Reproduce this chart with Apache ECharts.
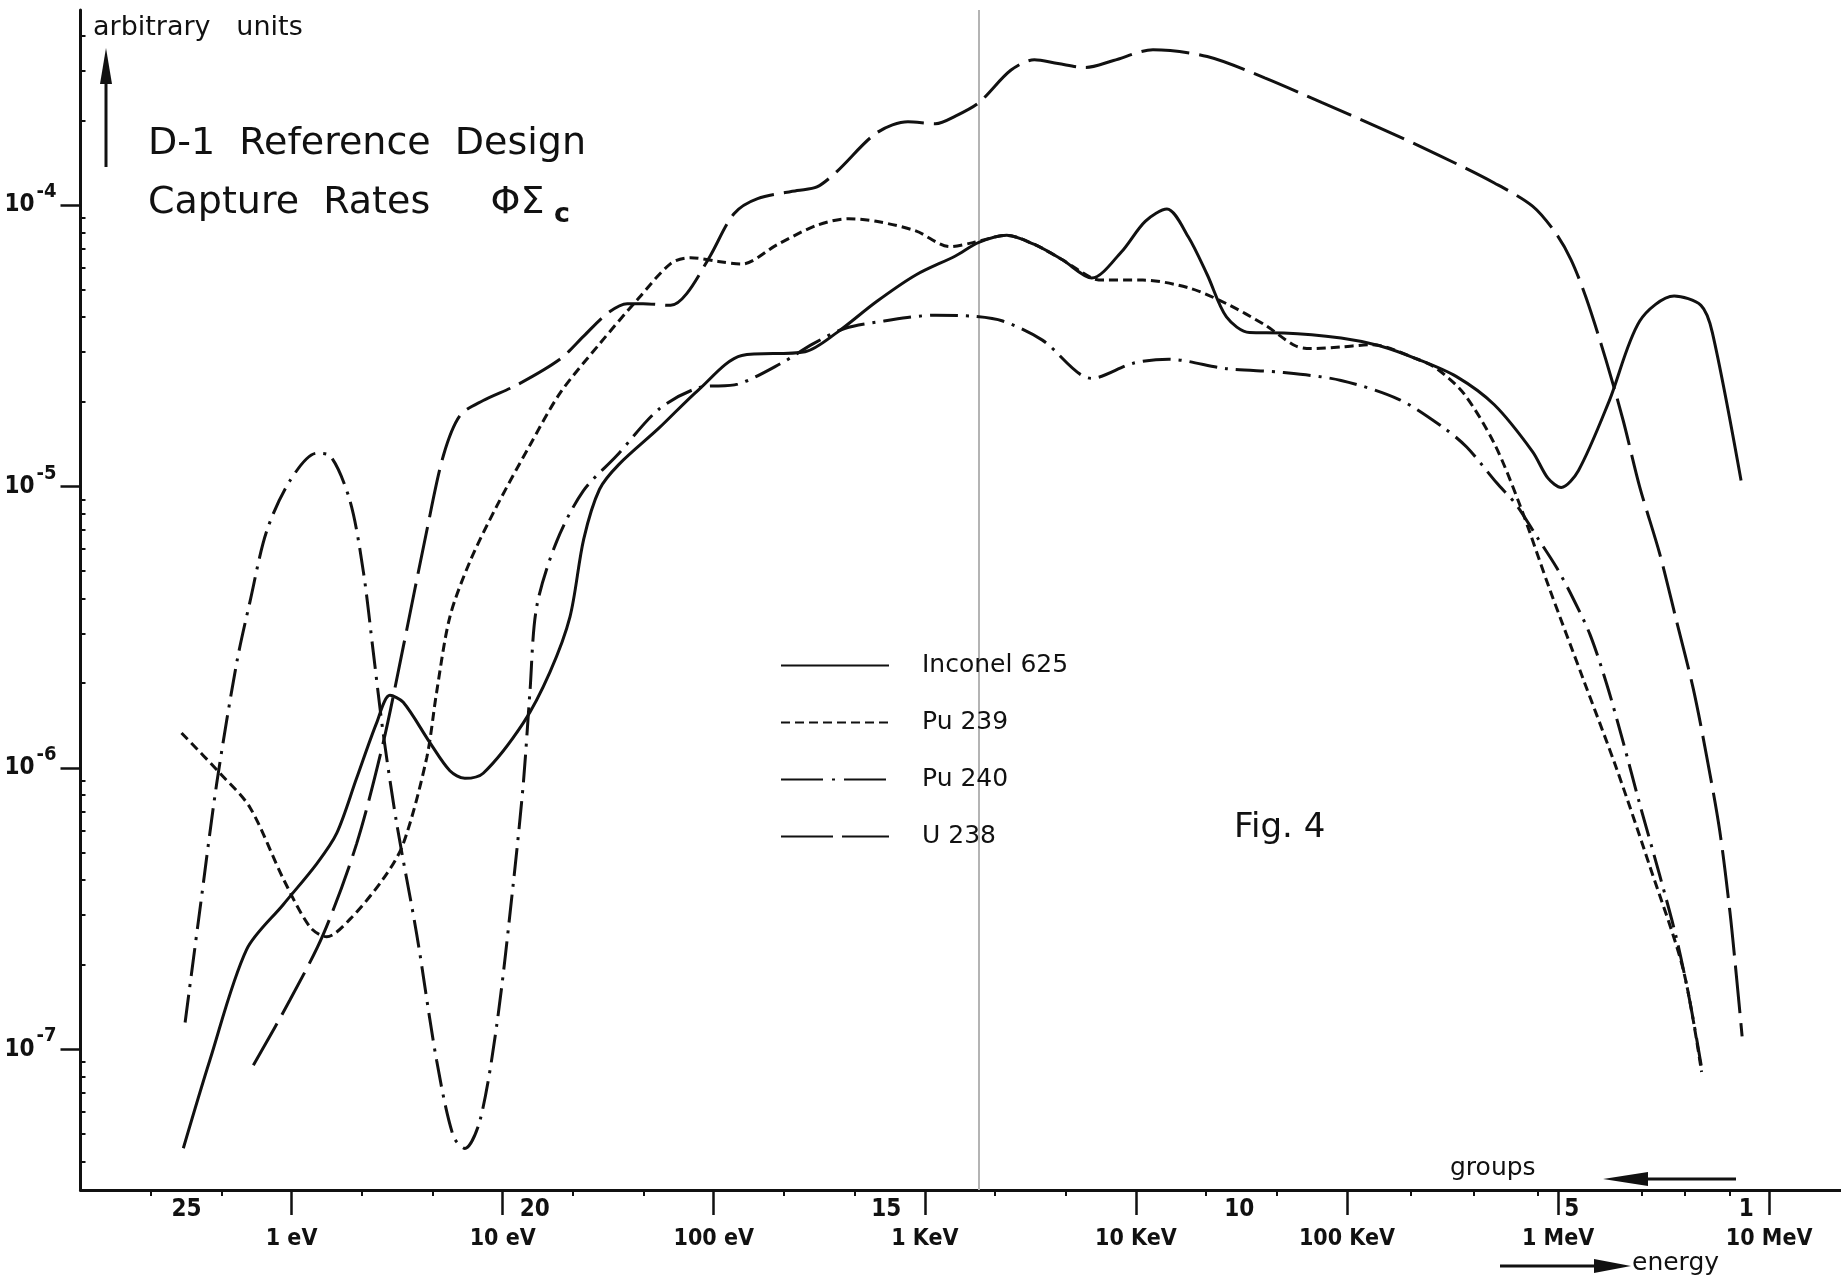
<!DOCTYPE html>
<html>
<head>
<meta charset="utf-8">
<title>D-1 Reference Design – Capture Rates</title>
<script src="https://cdn.jsdelivr.net/npm/echarts@6/dist/echarts.min.js"></script>
<style>
  html, body { margin: 0; padding: 0; background: #ffffff; }
  #chart { width: 1841px; height: 1286px; }
</style>
</head>
<body>
<div id="chart"></div>
<script>
// Capture rates (arbitrary units) versus neutron energy (eV)

const inconelE = [0.307, 0.410, 0.612, 0.914, 1.315, 1.637, 2.032, 2.529, 2.924, 3.381, 4.529, 5.623, 6.622, 8.09,
  12.53, 16.75, 20.84, 24.21, 28.77, 35.65, 54.95, 84.5, 135.8, 271, 383, 589, 906, 1396, 1803, 2443, 3304, 4467,
  6180, 8531, 11070, 14030, 17700, 21780, 26850, 34510, 50230, 93760, 142600, 216300, 328900, 498900, 756800,
  895400, 1.035e6, 1.25e6, 1.746e6, 2.438e6, 3.548e6, 4.753e6, 5.383e6, 7.362e6];
const inconelRate = [4.45e-8, 9.14e-8, 2.26e-7, 3.27e-7, 4.56e-7, 5.86e-7, 9.18e-7, 1.445e-6, 1.81e-6, 1.71e-6,
  1.227e-6, 9.77e-7, 9.18e-7, 9.57e-7, 1.445e-6, 2.19e-6, 3.44e-6, 6.50e-6, 9.77e-6, 1.20e-5, 1.61e-5, 2.20e-5,
  2.92e-5, 3.01e-5, 3.52e-5, 4.53e-5, 5.64e-5, 6.59e-5, 7.36e-5, 7.80e-5, 7.24e-5, 6.40e-5, 5.50e-5, 6.81e-5,
  8.75e-5, 9.68e-5, 7.71e-5, 5.65e-5, 4.00e-5, 3.52e-5, 3.51e-5, 3.37e-5, 3.16e-5, 2.83e-5, 2.46e-5, 1.95e-5,
  1.33e-5, 1.07e-5, 9.91e-6, 1.14e-5, 2.01e-5, 3.87e-5, 4.75e-5, 4.40e-5, 3.52e-5, 1.05e-5];

const pu239E = [0.301, 0.458, 0.635, 0.914, 1.222, 1.466, 1.892, 2.716, 3.381, 4.365, 4.864, 5.623, 7.0, 9.376,
  13.46, 18.66, 28.77, 44.26, 62.52, 77.62, 105, 135.8, 200.4, 308.3, 435.5, 588.8, 905.7, 1315, 1690, 2443, 3304,
  4467, 6180, 6982, 10790, 18030, 26850, 40740, 56890, 67300, 93760, 131200, 216300, 266700, 357300, 498900,
  659200, 914100, 1.315e6, 1.892e6, 2.723e6, 3.917e6, 4.786e6];
const pu239Rate = [1.33e-6, 9.57e-7, 7.23e-7, 4.03e-7, 2.72e-7, 2.51e-7, 2.90e-7, 4.03e-7, 5.37e-7, 1.084e-6,
  1.854e-6, 3.44e-6, 5.41e-6, 8.51e-6, 1.40e-5, 2.14e-5, 3.21e-5, 4.68e-5, 6.19e-5, 6.50e-5, 6.30e-5, 6.17e-5,
  7.24e-5, 8.47e-5, 8.93e-5, 8.75e-5, 8.09e-5, 7.11e-5, 7.35e-5, 7.80e-5, 7.24e-5, 6.40e-5, 5.50e-5, 5.41e-5,
  5.41e-5, 5.06e-5, 4.46e-5, 3.75e-5, 3.16e-5, 3.09e-5, 3.13e-5, 3.19e-5, 2.83e-5, 2.62e-5, 2.14e-5, 1.42e-5,
  8.59e-6, 4.30e-6, 2.07e-6, 9.95e-7, 4.46e-7, 1.92e-7, 8.30e-8];

const pu240E = [0.313, 0.368, 0.442, 0.550, 0.635, 0.762, 0.982, 1.315, 1.521, 1.892, 2.188, 2.438, 2.716, 3.148,
  3.917, 4.864, 5.834, 6.622, 7.798, 9.376, 11.22, 12.53, 13.46, 14.49, 18.03, 24.10, 34.67, 54.95, 84.53, 130,
  208.9, 295.1, 416.9, 641.2, 1125, 1730, 2339, 3606, 6180, 9705, 14320, 26850, 50230, 93760, 175800, 285800,
  369000, 511700, 635300, 790700, 984000, 1.18e6, 1.416e6, 1.698e6, 2.032e6, 2.438e6, 3.034e6, 3.639e6, 4.207e6,
  4.786e6];
const pu240Rate = [1.245e-7, 3.14e-7, 8.81e-7, 2.37e-6, 3.89e-6, 6.93e-6, 1.047e-5, 1.312e-5, 1.285e-5, 8.87e-6,
  4.98e-6, 2.58e-6, 1.33e-6, 6.34e-7, 2.56e-7, 9.14e-8, 4.92e-8, 4.44e-8, 5.56e-8, 1.219e-7, 3.86e-7, 8.81e-7,
  1.854e-6, 3.73e-6, 6.38e-6, 9.64e-6, 1.285e-5, 1.88e-5, 2.24e-5, 2.31e-5, 2.74e-5, 3.21e-5, 3.64e-5, 3.87e-5,
  4.06e-5, 4.02e-5, 3.87e-5, 3.31e-5, 2.42e-5, 2.74e-5, 2.83e-5, 2.62e-5, 2.54e-5, 2.38e-5, 2.04e-5, 1.62e-5,
  1.38e-5, 1.03e-5, 8.59e-6, 6.65e-6, 5.15e-6, 3.99e-6, 2.98e-6, 1.99e-6, 1.239e-6, 7.43e-7, 4.14e-7, 2.48e-7,
  1.486e-7, 8.61e-8];

const u238E = [0.659, 0.982, 1.413, 2.032, 2.716, 3.381, 4.365, 5.236, 6.281, 8.09, 11.64, 18.66, 24.21, 31.33,
  38.90, 46.24, 62.52, 74.3, 96.2, 124.7, 161.4, 248.3, 308.3, 382.8, 588.8, 831.8, 1125, 1396, 1803, 2553, 3304,
  4276, 5794, 7834, 12050, 21780, 40740, 76210, 142600, 266700, 498900, 756800, 972700, 1.151e6, 1.358e6,
  1.687e6, 2.032e6, 2.438e6, 3.034e6, 3.639e6, 4.365e6, 5.047e6, 5.834e6, 6.516e6, 7.015e6, 7.447e6];
const u238Rate = [8.77e-8, 1.496e-7, 2.56e-7, 5.37e-7, 1.227e-6, 2.69e-6, 6.93e-6, 1.285e-5, 1.786e-5, 2.02e-5,
  2.29e-5, 2.83e-5, 3.42e-5, 4.12e-5, 4.46e-5, 4.46e-5, 4.40e-5, 4.83e-5, 6.59e-5, 9.31e-5, 1.054e-4, 1.125e-4,
  1.159e-4, 1.315e-4, 1.80e-4, 1.977e-4, 1.945e-4, 2.07e-4, 2.31e-4, 3.01e-4, 3.28e-4, 3.18e-4, 3.08e-4, 3.26e-4,
  3.56e-4, 3.37e-4, 2.83e-4, 2.31e-4, 1.88e-4, 1.514e-4, 1.197e-4, 9.91e-5, 7.96e-5, 6.40e-5, 4.68e-5, 2.81e-5,
  1.722e-5, 9.95e-6, 5.75e-6, 3.33e-6, 1.919e-6, 1.109e-6, 5.97e-7, 3.09e-7, 1.786e-7, 1.112e-7];

// energy axis: decade ticks with their labels
const energyTicks = [1, 10, 100, 1e3, 1e4, 1e5, 1e6, 1e7];
const energyLabels = ['1 eV', '10 eV', '100 eV', '1 KeV', '10 KeV', '100 KeV', '1 MeV', '10 MeV'];
// group boundaries (eV) that carry a short tick, and the group numbers written under the axis
const groupBounds = [0.215, 0.465, 2.15, 4.65, 21.5, 46.5, 215, 465, 2150, 4650, 21500, 46500,
  2e5, 4e5, 8e5, 2.5e6, 4e6, 6.5e6];
const groupLabelAt = [0.318, 14.2, 656, 30900, 1.16e6, 7.8e6];
const groupLabels = ['25', '20', '15', '10', '5', '1'];
// rate axis decades and their exponents
const rateTicks = [1e-7, 1e-6, 1e-5, 1e-4];
const rateExponents = ['-7', '-6', '-5', '-4'];

const energyMin = 0.1, energyMax = 2.19e7;
const rateMin = 3.162e-8, rateMax = 4.93e-4;

// minor ticks 2..9 within each decade of the rate axis
const rateMinor = [];
for (let d = -8; d <= -4; d++) {
  for (let m = 2; m <= 9; m++) {
    const v = m * Math.pow(10, d);
    if (v > rateMin && v < rateMax) rateMinor.push(v);
  }
}

function pairs(es, vs) { return es.map((e, i) => [e, vs[i]]); }
function lookup(values, labels, v) {
  for (let i = 0; i < values.length; i++) {
    if (Math.abs(Math.log10(values[i]) - Math.log10(v)) < 1e-3) return labels[i];
  }
  return '';
}

const INK = '#111111';
const NARROW = "'Liberation Sans Narrow', 'DejaVu Sans Condensed', sans-serif";
const SANS = "'DejaVu Sans', sans-serif";

const chart = echarts.init(document.getElementById('chart'), null, { renderer: 'canvas' });

const lineBase = { type: 'line', symbol: 'none', showSymbol: false, smooth: 0.3, silent: true,
  xAxisIndex: 0, yAxisIndex: 0, itemStyle: { color: INK } };

chart.setOption({
  animation: false,
  backgroundColor: '#ffffff',
  grid: { left: 80.5, right: 0, top: 10, bottom: 96, containLabel: false, outerBoundsMode: 'none' },
  xAxis: [
    {
      type: 'log', logBase: 10, min: energyMin, max: energyMax, position: 'bottom',
      axisLine: { show: true, lineStyle: { color: INK, width: 3 } },
      axisTick: { show: true, customValues: energyTicks, length: 25, inside: false,
        lineStyle: { color: INK, width: 2.5 } },
      axisLabel: { show: true, customValues: energyTicks, margin: 38, color: INK,
        fontFamily: NARROW, fontSize: 23, fontWeight: 'bold',
        formatter: v => lookup(energyTicks, energyLabels, v) },
      splitLine: { show: false }, minorTick: { show: false }
    },
    {
      type: 'log', logBase: 10, min: energyMin, max: energyMax, position: 'bottom', offset: 0,
      axisLine: { show: false },
      axisTick: { show: true, customValues: groupBounds, length: 6, inside: false,
        lineStyle: { color: INK, width: 2 } },
      axisLabel: { show: true, customValues: groupLabelAt, margin: 8, color: INK,
        fontFamily: NARROW, fontSize: 24, fontWeight: 'bold',
        formatter: v => lookup(groupLabelAt, groupLabels, v) },
      splitLine: { show: false }
    }
  ],
  yAxis: [
    {
      type: 'log', logBase: 10, min: rateMin, max: rateMax, position: 'left',
      axisLine: { show: true, lineStyle: { color: INK, width: 3 } },
      axisTick: { show: true, customValues: rateTicks, length: 20, inside: false,
        lineStyle: { color: INK, width: 2.5 } },
      axisLabel: {
        show: true, customValues: rateTicks, margin: 24, color: INK,
        formatter: v => '{b|10}{s|' + lookup(rateTicks, rateExponents, v) + '}',
        rich: {
          b: { fontFamily: NARROW, fontSize: 24, fontWeight: 'bold', lineHeight: 46, color: INK },
          s: { fontFamily: NARROW, fontSize: 20, fontWeight: 'bold', lineHeight: 20,
            verticalAlign: 'top', color: INK, padding: [0, 0, 0, 2] }
        }
      },
      splitLine: { show: false }
    },
    {
      type: 'log', logBase: 10, min: rateMin, max: rateMax, position: 'left', offset: 0,
      axisLine: { show: false },
      axisTick: { show: true, customValues: rateMinor, length: 5, inside: true,
        lineStyle: { color: INK, width: 2 } },
      axisLabel: { show: false },
      splitLine: { show: false }
    }
  ],
  legend: {
    orient: 'vertical', left: 775, top: 648, itemWidth: 108, itemHeight: 30, itemGap: 32,
    selectedMode: false,
    itemStyle: { opacity: 0 },
    textStyle: { color: INK, fontFamily: SANS, fontSize: 25, padding: [0, 0, 0, 28] },
    data: [
      { name: 'Inconel 625' },
      { name: 'Pu 239', lineStyle: { type: [9, 5] } },
      { name: 'Pu 240', lineStyle: { type: [42, 9, 3, 9] } },
      { name: 'U 238', lineStyle: { type: [52, 9] } }
    ]
  },
  series: [
    Object.assign({}, lineBase, {
      name: 'Inconel 625', data: pairs(inconelE, inconelRate), z: 4,
      lineStyle: { color: INK, width: 3, type: 'solid' },
      markLine: {
        silent: true, symbol: 'none', label: { show: false }, z: 1,
        lineStyle: { color: '#b4b4b4', width: 2, type: 'solid' },
        data: [{ xAxis: 1803 }]
      }
    }),
    Object.assign({}, lineBase, {
      name: 'Pu 239', data: pairs(pu239E, pu239Rate), z: 3,
      lineStyle: { color: INK, width: 3, type: [9, 5] }
    }),
    Object.assign({}, lineBase, {
      name: 'Pu 240', data: pairs(pu240E, pu240Rate), z: 3,
      lineStyle: { color: INK, width: 3, type: [28, 8, 3, 8] }
    }),
    Object.assign({}, lineBase, {
      name: 'U 238', data: pairs(u238E, u238Rate), z: 3,
      lineStyle: { color: INK, width: 3, type: [48, 10] }
    })
  ],
  graphic: [
    { type: 'text', silent: true, style: { x: 93, y: 28, text: 'arbitrary   units', fill: INK,
      font: "27px 'DejaVu Sans'", verticalAlign: 'middle' } },
    { type: 'line', silent: true, shape: { x1: 106, y1: 167, x2: 106, y2: 80 },
      style: { stroke: INK, lineWidth: 3 } },
    { type: 'polygon', silent: true, shape: { points: [[106, 48], [100, 84], [112, 84]] },
      style: { fill: INK } },
    { type: 'text', silent: true, style: { x: 148, y: 144, text: 'D-1  Reference  Design', fill: INK,
      font: "38px 'DejaVu Sans'", verticalAlign: 'middle' } },
    { type: 'text', silent: true, style: {
      x: 148, y: 203, verticalAlign: 'middle',
      text: '{a|Capture  Rates     ΦΣ}{c| c}',
      rich: {
        a: { fontFamily: 'DejaVu Sans', fontSize: 38, lineHeight: 50, verticalAlign: 'middle', fill: INK },
        c: { fontFamily: 'DejaVu Sans', fontSize: 27, fontWeight: 'bold', lineHeight: 27,
          verticalAlign: 'bottom', fill: INK }
      } } },
    { type: 'text', silent: true, style: { x: 1234, y: 828, text: 'Fig. 4', fill: INK,
      font: "34px 'DejaVu Sans'", verticalAlign: 'middle' } },
    { type: 'text', silent: true, style: { x: 1450, y: 1168, text: 'groups', fill: INK,
      font: "25px 'DejaVu Sans'", verticalAlign: 'middle' } },
    { type: 'line', silent: true, shape: { x1: 1640, y1: 1179, x2: 1736, y2: 1179 },
      style: { stroke: INK, lineWidth: 3 } },
    { type: 'polygon', silent: true, shape: { points: [[1603, 1179], [1648, 1172], [1648, 1186]] },
      style: { fill: INK } },
    { type: 'line', silent: true, shape: { x1: 1500, y1: 1266, x2: 1600, y2: 1266 },
      style: { stroke: INK, lineWidth: 3 } },
    { type: 'polygon', silent: true, shape: { points: [[1631, 1266], [1594, 1259], [1594, 1273]] },
      style: { fill: INK } },
    { type: 'text', silent: true, style: { x: 1632, y: 1263, text: 'energy', fill: INK,
      font: "25px 'DejaVu Sans'", verticalAlign: 'middle' } }
  ]
});
</script>
</body>
</html>
